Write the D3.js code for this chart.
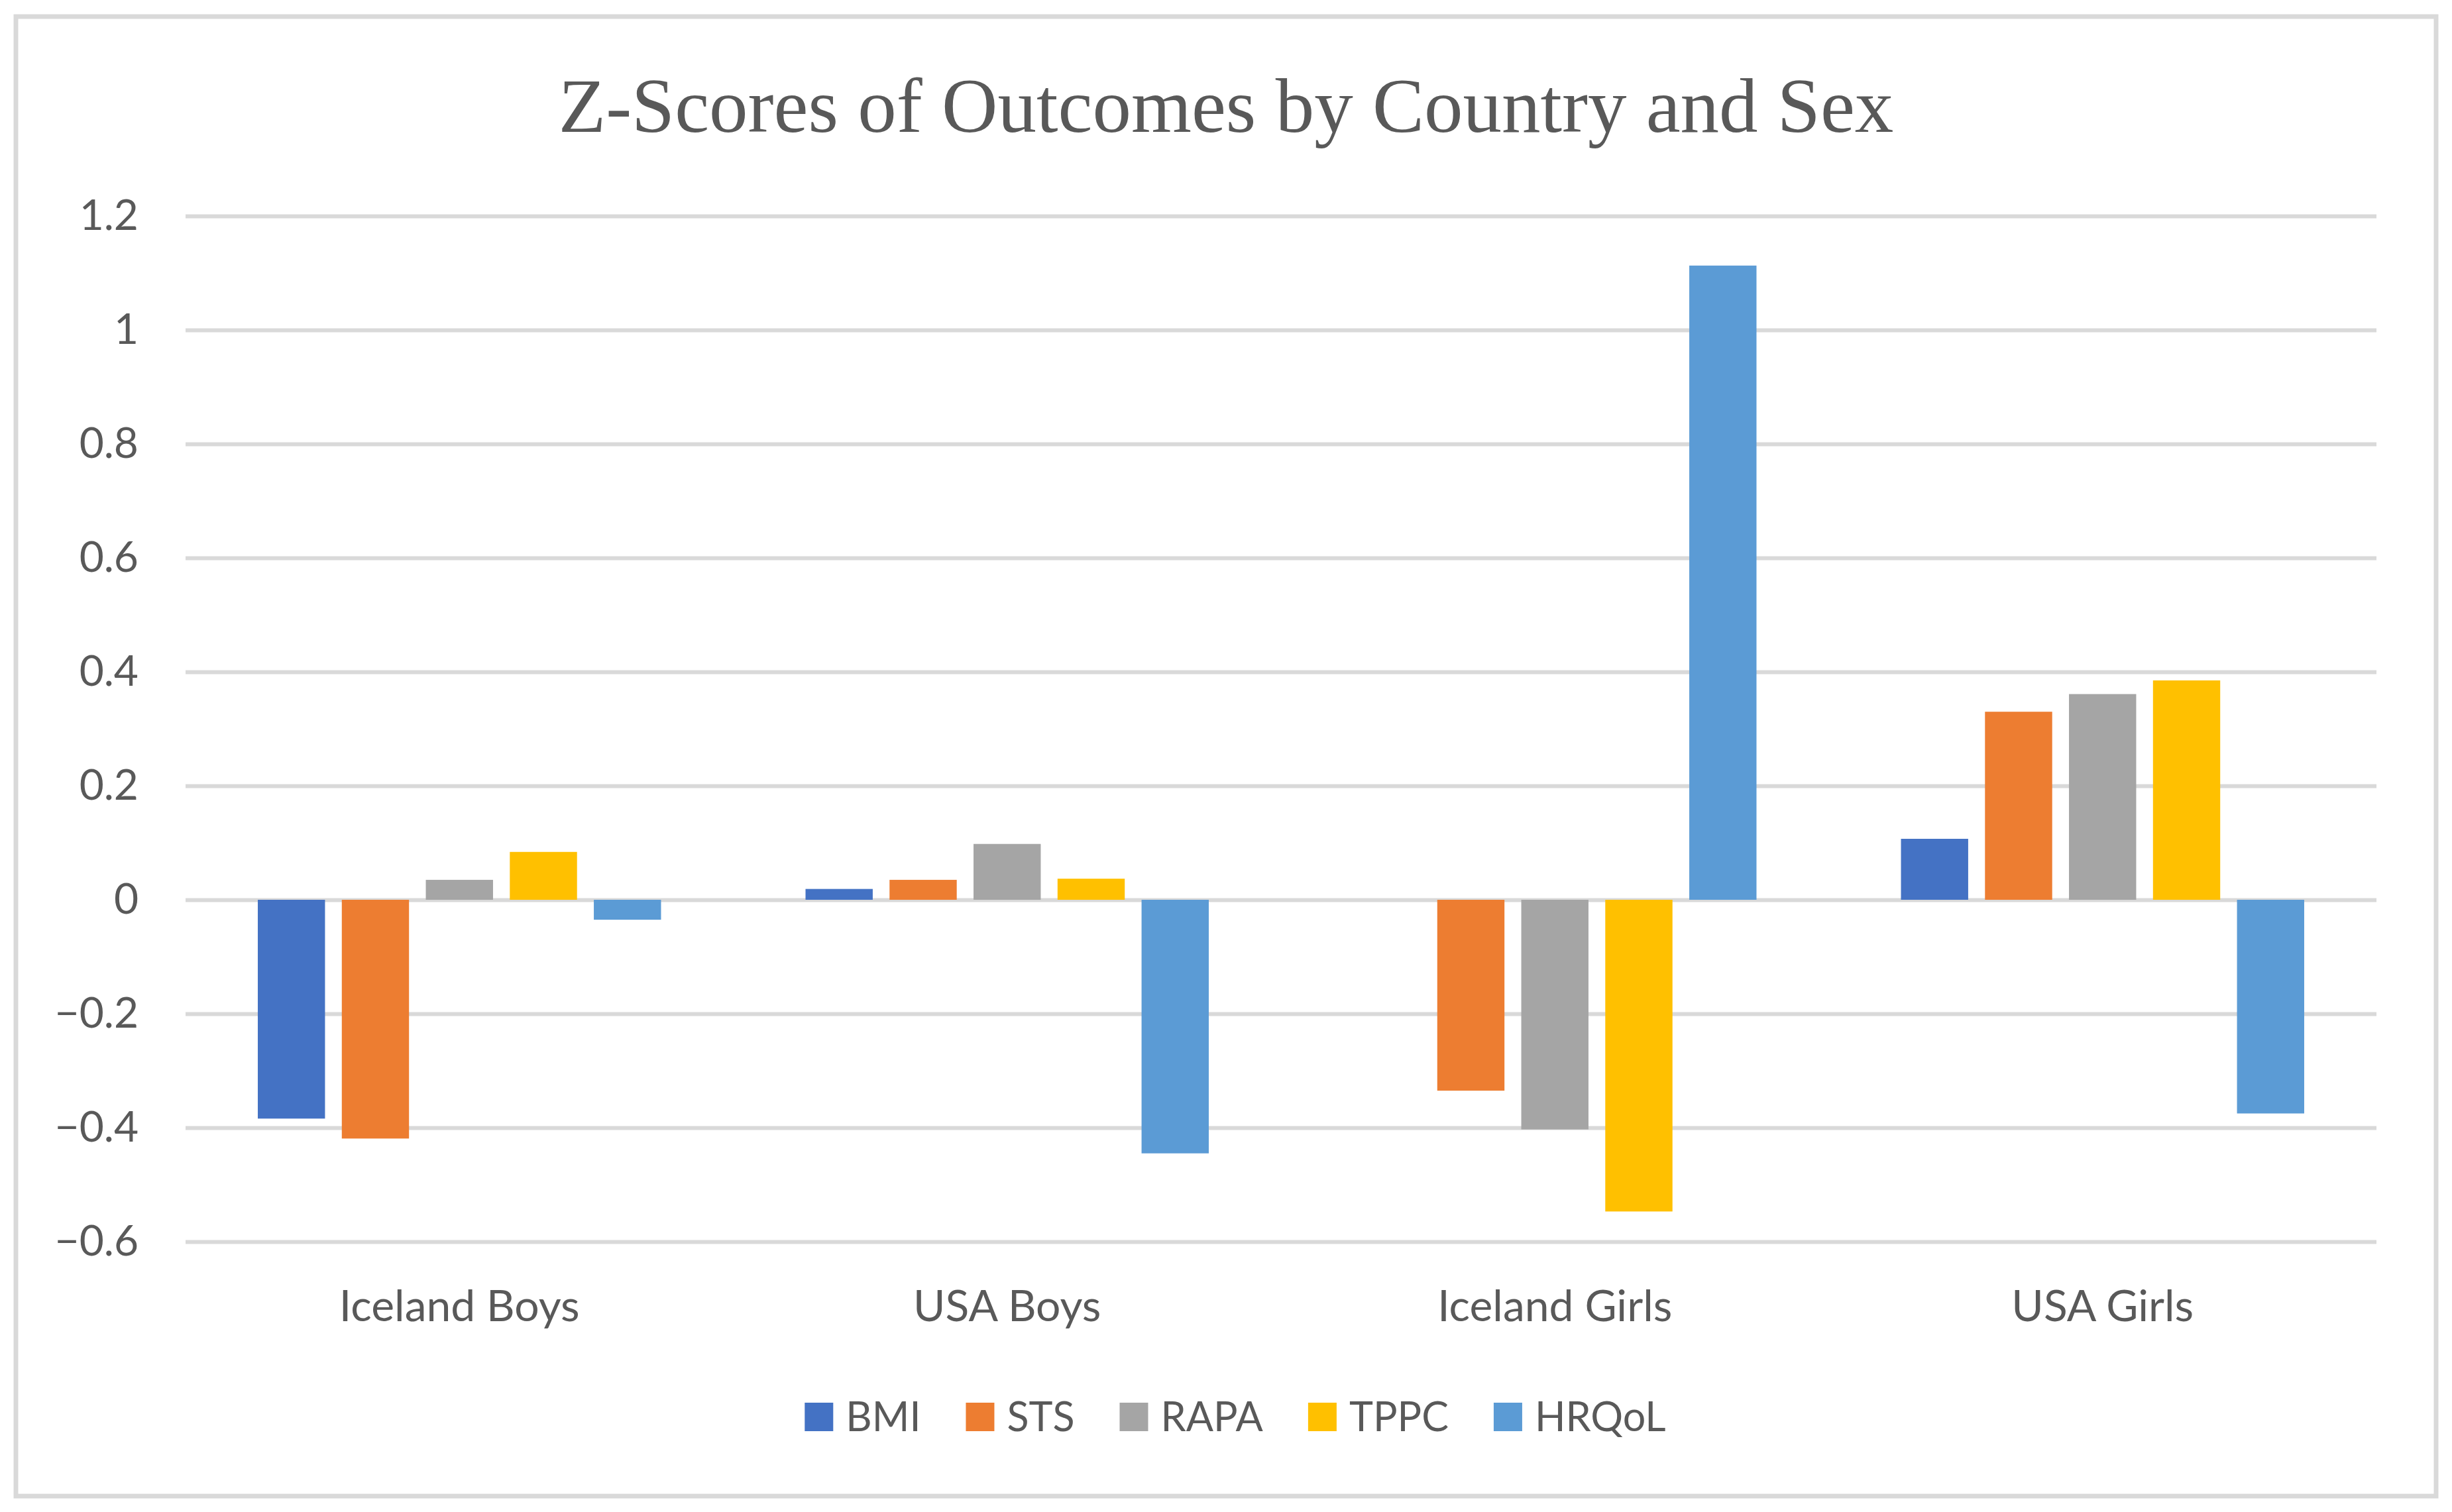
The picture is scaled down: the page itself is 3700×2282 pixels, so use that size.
<!DOCTYPE html>
<html>
	<head>
		<meta charset="utf-8">
		<title>Z-Scores of Outcomes by Country and Sex</title>
		<script src="https://d3js.org/d3.v7.min.js"></script>
		<style>
			body { margin: 0; background: #ffffff; }
			svg { display: block; }
		</style>
	</head>
	<body>
		<div id="chart"></div>
		<script type="text/javascript">
		// Data
		var categories = ["Iceland Boys", "USA Boys", "Iceland Girls", "USA Girls"];
		var seriesNames = ["BMI", "STS", "RAPA", "TPPC", "HRQoL"];
		var seriesColors = ["#4472C4", "#ED7D31", "#A5A5A5", "#FFC000", "#5B9BD5"];
		var bmiValues   = [-0.384, 0.019, 0, 0.107];
		var stsValues   = [-0.419, 0.035, -0.335, 0.330];
		var rapaValues  = [0.035, 0.098, -0.403, 0.361];
		var tppcValues  = [0.084, 0.037, -0.547, 0.385];
		var hrqolValues = [-0.035, -0.445, 1.113, -0.375];
		var yTicks = [-0.6, -0.4, -0.2, 0, 0.2, 0.4, 0.6, 0.8, 1, 1.2];
		var chartTitle = "Z-Scores of Outcomes by Country and Sex";

		var allValues = [bmiValues, stsValues, rapaValues, tppcValues, hrqolValues];

		// Sizes
		const width = 3700, height = 2282;
		const plot = {left: 280, right: 3586, top: 326, bottom: 1874};
		const textColor = "#595959";
		const gridColor = "#d9d9d9";
		const sansFont = "Lato, 'Open Sans', sans-serif";

		var svg = d3.select("#chart").append("svg")
			.attr("width", width)
			.attr("height", height);

		// Outer frame
		svg.append("rect")
			.attr("x", 24).attr("y", 25)
			.attr("width", 3652).attr("height", 2233)
			.attr("fill", "#ffffff")
			.attr("stroke", gridColor)
			.attr("stroke-width", 7);

		// Title
		svg.append("text")
			.attr("x", 1850).attr("y", 199)
			.attr("text-anchor", "middle")
			.attr("font-family", "'Liberation Serif', 'Times New Roman', serif")
			.attr("font-size", 117)
			.attr("fill", textColor)
			.text(chartTitle);

		// Scales
		var x0 = d3.scaleBand()
			.domain(categories)
			.range([plot.left, plot.right])
			.padding(0);

		var x1 = d3.scaleBand()
			.domain(seriesNames)
			.range([0, x0.bandwidth()])
			.paddingInner(0.2)
			.paddingOuter(0.86);

		var yScale = d3.scaleLinear()
			.domain([-0.6, 1.2])
			.range([plot.bottom, plot.top]);

		// Gridlines + y labels via axisLeft
		var yAxis = svg.append("g")
			.attr("class", "y axis")
			.attr("transform", "translate(" + plot.left + ",0)")
			.call(d3.axisLeft(yScale)
				.tickValues(yTicks)
				.tickSize(-(plot.right - plot.left))
				.tickPadding(71)
				.tickFormat(function(d) { return d3.format("")(Math.round(d * 10) / 10).replace("-", "\u2212"); }));

		yAxis.select(".domain").remove();
		yAxis.selectAll(".tick line")
			.attr("stroke", gridColor)
			.attr("stroke-width", 6);
		yAxis.selectAll(".tick text")
			.attr("font-family", sansFont)
			.attr("font-size", 64)
			.attr("fill", textColor);

		// Bars
		var groups = svg.append("g").selectAll("g")
			.data(categories)
			.join("g")
				.attr("transform", function(d) { return "translate(" + x0(d) + ",0)"; });

		groups.selectAll("rect")
			.data(function(d, i) {
				return seriesNames.map(function(s, j) {
					return {series: s, value: allValues[j][i], color: seriesColors[j]};
				});
			})
			.join("rect")
				.attr("x", function(d) { return x1(d.series); })
				.attr("width", x1.bandwidth())
				.attr("y", function(d) { return yScale(Math.max(0, d.value)); })
				.attr("height", function(d) { return Math.abs(yScale(d.value) - yScale(0)); })
				.attr("fill", function(d) { return d.color; });

		// Category labels
		var xAxis = svg.append("g")
			.attr("class", "x axis")
			.attr("transform", "translate(0," + plot.bottom + ")")
			.call(d3.axisBottom(x0).tickSize(0).tickPadding(0));

		xAxis.select(".domain").remove();
		xAxis.selectAll(".tick text")
			.attr("dy", null)
			.attr("y", 120)
			.attr("font-family", sansFont)
			.attr("font-size", 66)
			.attr("fill", textColor);

		// Legend
		var legend = svg.append("g").attr("class", "legend");
		var legendX = 0;
		seriesNames.forEach(function(name, i) {
			var item = legend.append("g").attr("transform", "translate(" + legendX + ",0)");
			item.append("rect")
				.attr("x", 0).attr("y", -43)
				.attr("width", 43).attr("height", 43)
				.attr("fill", seriesColors[i]);
			var label = item.append("text")
				.attr("x", 62).attr("y", 0)
				.attr("font-family", sansFont)
				.attr("font-size", 61)
				.attr("fill", textColor)
				.text(name);
			legendX += 62 + label.node().getComputedTextLength() + 68;
		});
		legendX -= 68;
		legend.attr("transform", "translate(" + (1864 - legendX / 2) + ",2160)");
		</script>
	</body>
</html>
